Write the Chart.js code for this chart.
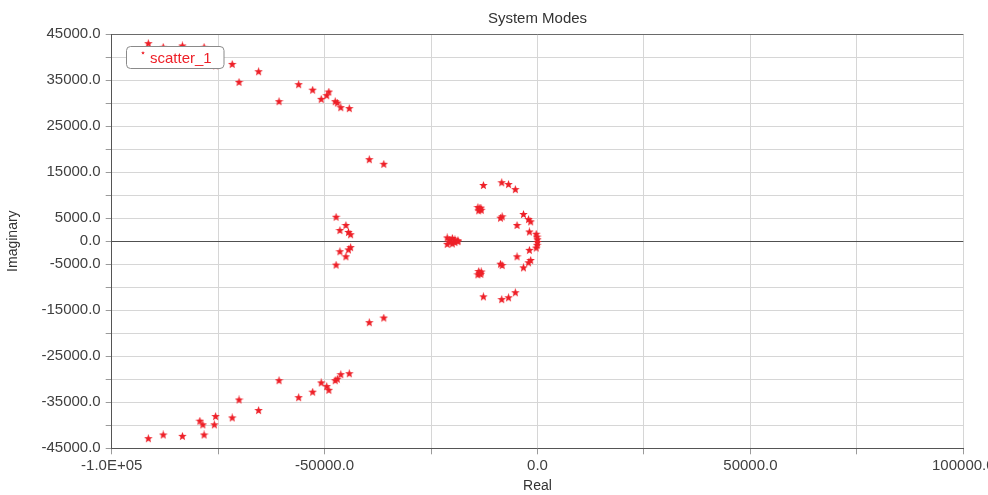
<!DOCTYPE html>
<html>
<head>
<meta charset="utf-8">
<script src="https://cdn.jsdelivr.net/npm/chart.js@4/dist/chart.umd.min.js"></script>
<style>
  html, body { margin: 0; padding: 0; background: #ffffff; }
  #wrap { width: 988px; height: 495px; }
</style>
</head>
<body>
<div id="wrap"><canvas id="c" width="988" height="495"></canvas></div>
<script>
// ---- data (system modes: real / imaginary parts) ----
const seriesName = 'scatter_1';
const chartTitle = 'System Modes';
const xAxisTitle = 'Real';
const yAxisTitle = 'Imaginary';

const realPart = [
  -91400, -87900, -83400, -78300, -79300, -78600, -75900, -75600, -71700, -70100,
  -65500, -60700, -56100, -52800, -50800, -49500, -49000, -47500, -47000, -46200,
  -44200, -39500, -36100, -47300, -45000, -46400, -44400, -43900, -12700, -8400,
  -6800, -5200, -14000, -13600, -13200, -13800, -13300, -8700, -8300, -3300,
  -2100, -1600, -4800, -1900, -300, -100, 0, -21200, -20600, -20000,
  -19400, -18700,
  -91400, -87900, -83400, -78300, -79300, -78600, -75900, -75600, -71700, -70100,
  -65500, -60700, -56100, -52800, -50800, -49500, -49000, -47500, -47000, -46200,
  -44200, -39500, -36100, -47300, -45000, -46400, -44400, -43900, -12700, -8400,
  -6800, -5200, -14000, -13600, -13200, -13800, -13300, -8700, -8300, -3300,
  -2100, -1600, -4800, -1900, -300, -100, 0, -21200, -20600, -20000,
  -19400, -18700
];
const imagPart = [
  42900, 42100, 42400, 42100, 39100, 39900, 39900, 38100, 38400, 34500,
  36800, 30300, 34000, 32800, 30800, 31600, 32400, 30300, 30000, 29000,
  28800, 17700, 16700, 5200, 3400, 2300, 1900, 1400, 12100, 12700,
  12300, 11200, 7300, 7000, 6700, 6600, 7200, 5000, 5300, 5800,
  4700, 4200, 3400, 2000, 1500, 900, 300, 700, 200, 600,
  300, 100,
  -42900, -42100, -42400, -42100, -39100, -39900, -39900, -38100, -38400, -34500,
  -36800, -30300, -34000, -32800, -30800, -31600, -32400, -30300, -30000, -29000,
  -28800, -17700, -16700, -5200, -3400, -2300, -1900, -1400, -12100, -12700,
  -12300, -11200, -7300, -7000, -6700, -6600, -7200, -5000, -5300, -5800,
  -4700, -4200, -3400, -2000, -1500, -900, -300, -700, -200, -600,
  -300, -100
];

const xMin = -100000, xMax = 100000, xStep = 25000;
const yMin = -45000, yMax = 45000, yStep = 5000;

// ---- styling ----
const RED = 'rgb(238, 32, 40)';
const FONT = 'Liberation Sans, Arial, sans-serif';

function makeStar(size, color) {
  const cv = document.createElement('canvas');
  cv.width = size; cv.height = size;
  const g = cv.getContext('2d');
  const cx = size / 2, cy = size / 2, ro = size / 2, ri = size / 4.6;
  g.beginPath();
  for (let i = 0; i < 10; i++) {
    const r = i % 2 === 0 ? ro : ri;
    const a = -Math.PI / 2 + i * Math.PI / 5;
    const px = cx + r * Math.cos(a), py = cy + r * Math.sin(a);
    if (i === 0) g.moveTo(px, py); else g.lineTo(px, py);
  }
  g.closePath();
  g.fillStyle = color;
  g.fill();
  return cv;
}
const starImg = makeStar(9, RED);

const points = realPart.map((x, i) => ({ x: x, y: imagPart[i] }));

const legendPlugin = {
  id: 'boxLegend',
  afterDatasetsDraw(chart) {
    const ctx = chart.ctx;
    const x = 126.5, y = 46.5, w = 97.5, h = 22, r = 4;
    ctx.save();
    ctx.beginPath();
    ctx.moveTo(x + r, y);
    ctx.arcTo(x + w, y, x + w, y + h, r);
    ctx.arcTo(x + w, y + h, x, y + h, r);
    ctx.arcTo(x, y + h, x, y, r);
    ctx.arcTo(x, y, x + w, y, r);
    ctx.closePath();
    ctx.fillStyle = '#ffffff';
    ctx.fill();
    ctx.strokeStyle = '#8a8a8a';
    ctx.lineWidth = 1;
    ctx.stroke();
    ctx.drawImage(makeStar(4, RED), 141, 51);
    ctx.fillStyle = RED;
    ctx.font = '15px ' + FONT;
    ctx.textBaseline = 'middle';
    ctx.fillText(seriesName, 150, y + h / 2 + 1);
    ctx.restore();
  }
};

new Chart(document.getElementById('c'), {
  type: 'scatter',
  data: {
    datasets: [{
      label: seriesName,
      data: points,
      pointStyle: starImg,
      pointRadius: 4.5,
      pointHoverRadius: 4.5,
      backgroundColor: RED,
      borderColor: RED
    }]
  },
  options: {
    responsive: false,
    animation: false,
    devicePixelRatio: 1,
    layout: { padding: { left: 0, right: 24.7, top: 0, bottom: 0 } },
    plugins: {
      legend: { display: false },
      tooltip: { enabled: false },
      title: {
        display: true,
        fullSize: false,
        text: chartTitle,
        color: '#333333',
        font: { family: FONT, size: 15, weight: 'normal' },
        padding: { top: 10, bottom: 6 }
      }
    },
    scales: {
      x: {
        type: 'linear',
        min: xMin, max: xMax,
        ticks: {
          stepSize: xStep,
          autoSkip: false,
          maxRotation: 0,
          color: '#404040',
          font: { family: FONT, size: 15 },
          padding: 3,
          callback: (v) => v === -100000 ? '-1.0E+05' : (v % 50000 === 0 ? v.toFixed(1) : '')
        },
        grid: {
          color: (c) => '#d6d6d6',
          tickLength: 6,
          tickColor: '#9a9a9a'
        },
        border: { color: '#555555', width: 1 },
        title: {
          display: true, text: xAxisTitle, color: '#333333',
          font: { family: FONT, size: 14 }, padding: { top: 0, bottom: 0 }
        },
        afterFit: (s) => { s.height = 46.7; s.paddingLeft = 0; s.paddingRight = 0; }
      },
      y: {
        type: 'linear',
        min: yMin, max: yMax,
        ticks: {
          stepSize: yStep,
          autoSkip: false,
          color: '#404040',
          font: { family: FONT, size: 15 },
          padding: 5,
          callback: (v) => (v === 0 || Math.abs(v) % 10000 === 5000) ? v.toFixed(1) : ''
        },
        grid: {
          color: (c) => c.tick && c.tick.value === 0 ? '#505050' : (c.tick && c.tick.value === yMax ? '#6a6a6a' : '#d6d6d6'),
          tickLength: 6,
          tickColor: '#9a9a9a'
        },
        border: { color: '#555555', width: 1 },
        title: {
          display: true, text: yAxisTitle, color: '#333333',
          font: { family: FONT, size: 14 }, padding: { top: 5, bottom: 0 }
        },
        afterFit: (s) => { s.width = 111.7; s.paddingTop = 0; s.paddingBottom = 0; }
      }
    }
  },
  plugins: [legendPlugin]
});
</script>
</body>
</html>
